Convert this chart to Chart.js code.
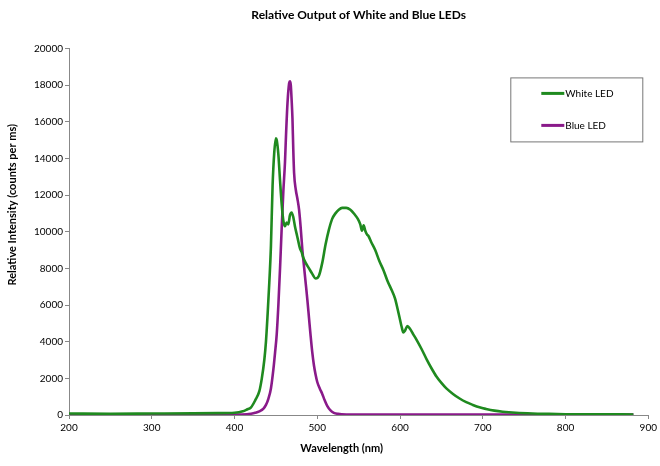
<!DOCTYPE html>
<html>
<head>
<meta charset="utf-8">
<script src="https://cdn.jsdelivr.net/npm/chart.js@4.4.1/dist/chart.umd.min.js"></script>
<style>
  html, body { margin: 0; padding: 0; background: #fff; }
  #wrap { width: 660px; height: 466px; }
</style>
</head>
<body>
<div id="wrap"><canvas id="ledChart" width="660" height="466"></canvas></div>
<script>
// wavelength (nm) and intensity (counts per ms)
const whiteNm = [200, 250, 300, 350, 380, 400, 410, 415, 420, 425, 430, 433, 436, 438, 440, 442, 444, 446, 448, 450,
  451, 453, 455, 457, 459, 461, 463, 465, 467, 469, 471, 473, 476, 479, 481, 483, 486, 490, 494, 498,
  502, 506, 510, 514, 518, 522, 526, 530, 535, 540, 545, 549, 552, 554, 556, 558, 560, 562, 565, 570,
  575, 580, 585, 590, 594, 597, 600, 602, 604, 606, 609, 612, 616, 620, 626, 632, 638, 644, 650, 656,
  664, 672, 680, 688, 696, 704, 714, 724, 740, 760, 780, 800, 840, 882];
const whiteVals = [80, 70, 80, 90, 100, 120, 200, 300, 420, 800, 1300, 2000, 3000, 4000, 5500, 7200, 9200, 12500, 14300, 15100,
  15000, 14200, 12800, 11500, 10600, 10300, 10500, 10400, 10900, 11050, 10800, 10300, 9700, 9100, 8900, 8600, 8300, 8000, 7700, 7450,
  7600, 8300, 9300, 10100, 10700, 11000, 11200, 11300, 11300, 11200, 10950, 10700, 10400, 10050, 10350, 10050, 9850, 9750, 9450, 9000,
  8400, 7900, 7300, 6800, 6350, 5800, 5200, 4800, 4500, 4600, 4850, 4700, 4400, 4100, 3600, 3050, 2550, 2100, 1750, 1450,
  1150, 900, 700, 550, 420, 330, 240, 180, 120, 80, 60, 45, 35, 30];

const blueNm = [200, 300, 400, 415, 420, 425, 430, 435, 438, 441, 444, 447, 449, 451, 453, 455, 457, 459, 461, 462,
  464, 466, 467, 468, 469, 470, 471, 472, 474, 476, 478, 480, 482, 484, 486, 488, 490, 492, 494, 496,
  498, 500, 503, 506, 509, 512, 516, 520, 525, 535, 600, 700, 882];
const blueVals = [30, 30, 30, 40, 70, 120, 200, 350, 550, 900, 1450, 2500, 3400, 4400, 6000, 8000, 10200, 12200, 13800, 15000,
  17000, 18100, 18200, 18000, 17200, 16200, 14500, 13200, 12300, 11800, 11200, 10200, 9000, 8100, 7200, 6300, 5300, 4300, 3400, 2700,
  2200, 1800, 1450, 1150, 800, 500, 250, 120, 60, 30, 25, 20, 20];

const seriesNames = ["White LED", "Blue LED"];
const seriesColors = ["#1f8a1f", "#8a1a8a"];
const xTitle = "Wavelength (nm)";
const yTitle = "Relative Intensity (counts per ms)";

const fontFam = "Lato, 'Open Sans', sans-serif";

function toPoints(xs, ys) {
    return xs.map((x, i) => ({ x: x, y: ys[i] }));
}

// boxed legend inside the plot + axis titles placed like the original
const boxLegend = {
    id: 'boxLegend',
    afterDraw(chart) {
        const ctx = chart.ctx;
        const area = chart.chartArea;
        const left = area.right - 138, top = area.top + 29, w = 132, h = 64;
        ctx.save();
        ctx.fillStyle = '#fff';
        ctx.fillRect(left, top, w, h);
        ctx.strokeStyle = '#777';
        ctx.lineWidth = 1;
        ctx.strokeRect(left + 0.5, top + 0.5, w, h);
        ctx.font = "10px " + fontFam;
        ctx.textBaseline = 'middle';
        chart.data.datasets.forEach((ds, i) => {
            const y = top + 16 + i * 32;
            ctx.strokeStyle = ds.borderColor;
            ctx.lineWidth = 3;
            ctx.beginPath();
            ctx.moveTo(left + 31, y);
            ctx.lineTo(left + 54, y);
            ctx.stroke();
            ctx.fillStyle = '#000';
            ctx.fillText(ds.label, left + 55, y);
        });

        ctx.font = "bold 11px " + fontFam;
        ctx.textAlign = 'center';
        ctx.fillStyle = '#000';
        ctx.fillText(xTitle, area.left + (area.right - area.left) / 2 - 17, 448);
        ctx.translate(12, area.top + (area.bottom - area.top) / 2 - 27);
        ctx.rotate(-Math.PI / 2);
        ctx.fillText(yTitle, 0, 0);
        ctx.restore();
    }
};

new Chart(document.getElementById('ledChart'), {
    type: 'line',
    data: {
        datasets: [{
            label: seriesNames[0],
            data: toPoints(whiteNm, whiteVals),
            borderColor: seriesColors[0],
            backgroundColor: seriesColors[0],
            borderWidth: 2.6,
            pointRadius: 0,
            cubicInterpolationMode: 'monotone'
        }, {
            label: seriesNames[1],
            data: toPoints(blueNm, blueVals),
            borderColor: seriesColors[1],
            backgroundColor: seriesColors[1],
            borderWidth: 2.6,
            pointRadius: 0,
            cubicInterpolationMode: 'monotone'
        }]
    },
    options: {
        responsive: false,
        animation: false,
        layout: { padding: { left: 0, right: 7, top: 0, bottom: 0 } },
        plugins: {
            legend: { display: false },
            tooltip: { enabled: false },
            title: {
                display: true,
                text: 'Relative Output of White and Blue LEDs',
                fullSize: false,
                color: '#000',
                font: { family: fontFam, size: 12, weight: 'bold' },
                padding: { top: 8, bottom: 26 }
            }
        },
        scales: {
            x: {
                type: 'linear',
                min: 200,
                max: 900,
                ticks: { stepSize: 100, color: '#000', padding: 3, font: { family: fontFam, size: 10 } },
                grid: { display: true, drawOnChartArea: false, drawTicks: true, tickLength: 4, color: '#888' },
                border: { color: '#888' },
                afterFit(scale) { scale.height = 51; }
            },
            y: {
                min: 0,
                max: 20000,
                ticks: {
                    stepSize: 2000, color: '#000', padding: 2, font: { family: fontFam, size: 10 },
                    callback: (v) => String(v)
                },
                grid: { display: true, drawOnChartArea: false, drawTicks: true, tickLength: 4, color: '#888' },
                border: { color: '#888' },
                afterFit(scale) { scale.width = 69; }
            }
        }
    },
    plugins: [boxLegend]
});
</script>
</body>
</html>
